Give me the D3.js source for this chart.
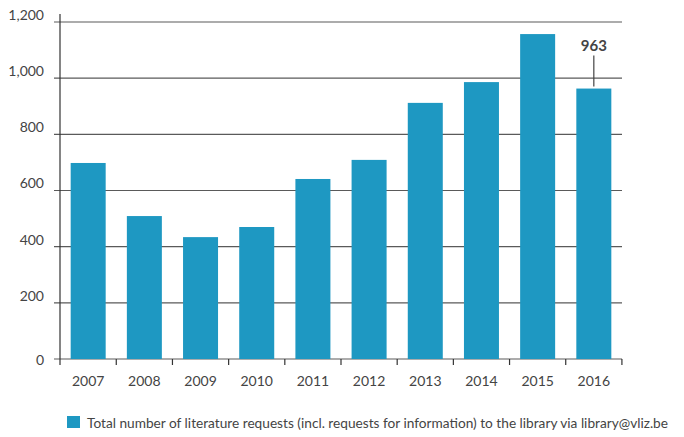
<!DOCTYPE html>
<html>
<head>
<meta charset="utf-8">
<script src="https://cdn.jsdelivr.net/npm/d3@7"></script>
<style>
  body { margin: 0; background: #fff; }
  text { font-family: Lato, "Open Sans", sans-serif; fill: #444; }
</style>
</head>
<body>
<div id="chart"></div>
<script>
// data
const years = ['2007', '2008', '2009', '2010', '2011', '2012', '2013', '2014', '2015', '2016'];
const requests = [698, 509, 434, 470, 641, 709, 912, 986, 1157, 963];
const yTicks = [0, 200, 400, 600, 800, 1000, 1200];
const legendLabel = 'Total number of literature requests (incl. requests for information) to the library via library@vliz.be';
const highlightYear = '2016';

const width = 684, height = 437;
const plot = { left: 60, right: 622, top: 22, bottom: 359 };
const barColor = '#1e98c2';

let svg = d3.select('#chart')
    .append('svg')
    .attr('width', width)
    .attr('height', height);

let x = d3.scaleBand()
    .domain(years)
    .range([plot.left, plot.right])
    .paddingInner(0.377)
    .paddingOuter(0.19);

let y = d3.scaleLinear()
    .domain([0, 1200])
    .range([plot.bottom, plot.top]);

// gridlines + y labels
let grid = svg.append('g').attr('id', 'grid');
grid.selectAll('line')
    .data(yTicks)
    .join('line')
    .attr('x1', plot.left - 6)
    .attr('x2', plot.right)
    .attr('y1', d => y(d))
    .attr('y2', d => y(d))
    .attr('stroke', '#5a5a5a')
    .attr('stroke-width', 1.2);

grid.selectAll('text')
    .data(yTicks)
    .join('text')
    .attr('x', 44)
    .attr('y', d => y(d))
    .attr('dy', d => d == 0 ? '0.4em' : '-0.15em')
    .attr('text-anchor', 'end')
    .style('font-size', '14px')
    .text(d => d3.format(',')(d));

// bars
svg.append('g').attr('id', 'bars')
    .selectAll('rect')
    .data(years)
    .join('rect')
    .attr('x', d => x(d))
    .attr('width', x.bandwidth())
    .attr('y', (d, i) => y(requests[i]))
    .attr('height', (d, i) => plot.bottom - y(requests[i]))
    .attr('fill', barColor);

// axes
let axis = svg.append('g').attr('id', 'axis');
axis.append('line')
    .attr('x1', plot.left).attr('x2', plot.left)
    .attr('y1', plot.top - 8).attr('y2', plot.bottom + 6)
    .attr('stroke', '#333').attr('stroke-width', 1.2);

let step = x.step();
let bounds = d3.range(years.length + 1).map(i => x(years[0]) - x.paddingInner() * step / 2 + i * step);
axis.selectAll('.xtick')
    .data(bounds.slice(1))
    .join('line')
    .attr('class', 'xtick')
    .attr('x1', d => d).attr('x2', d => d)
    .attr('y1', plot.bottom).attr('y2', plot.bottom + 6)
    .attr('stroke', '#333').attr('stroke-width', 1.2);

axis.selectAll('text')
    .data(years)
    .join('text')
    .attr('x', d => x(d) + x.bandwidth() / 2)
    .attr('y', plot.bottom + 27)
    .attr('text-anchor', 'middle')
    .style('font-size', '14px')
    .text(d => d);

// callout for last year
let hiIdx = years.indexOf(highlightYear);
let hx = x(highlightYear) + x.bandwidth() / 2;
svg.append('line')
    .attr('x1', hx).attr('x2', hx)
    .attr('y1', y(requests[hiIdx]) - 33)
    .attr('y2', y(requests[hiIdx]) - 2)
    .attr('stroke', '#444').attr('stroke-width', 1.2);
svg.append('text')
    .attr('x', hx)
    .attr('y', y(requests[hiIdx]) - 38)
    .attr('text-anchor', 'middle')
    .style('font-size', '15px')
    .style('font-weight', 'bold')
    .text(requests[hiIdx]);

// legend
let legend = svg.append('g').attr('id', 'legend');
legend.append('rect')
    .attr('x', 67).attr('y', 416)
    .attr('width', 13).attr('height', 12)
    .attr('fill', barColor);
legend.append('text')
    .attr('x', 87).attr('y', 428)
    .attr('textLength', 581)
    .attr('lengthAdjust', 'spacingAndGlyphs')
    .style('font-size', '13.5px')
    .text(legendLabel);
</script>
</body>
</html>
